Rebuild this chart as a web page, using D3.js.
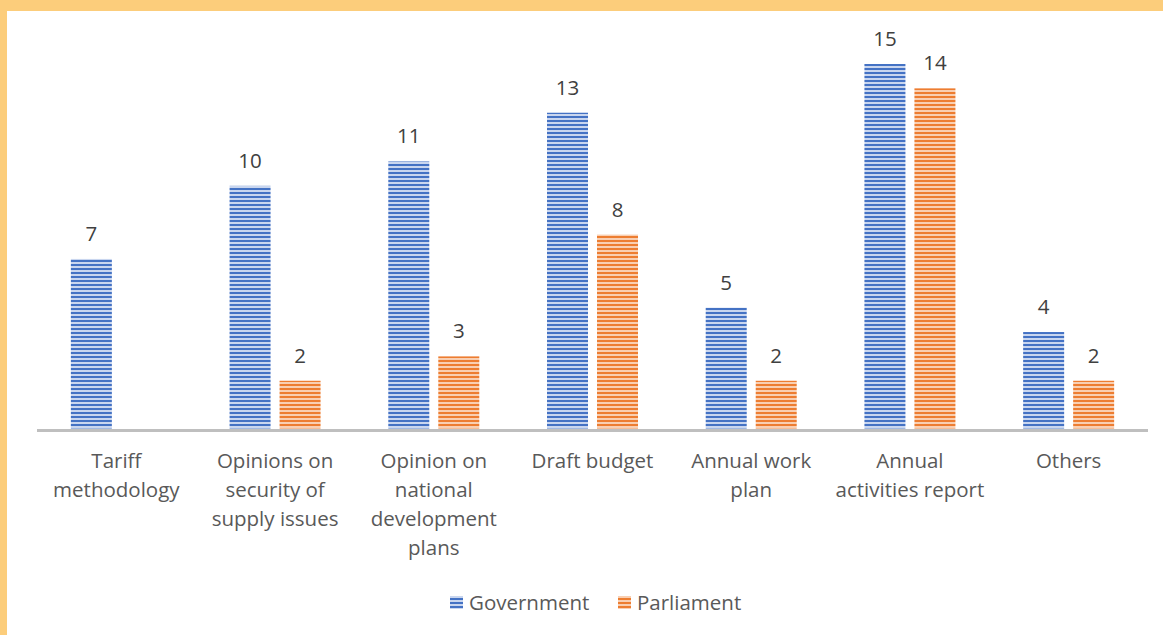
<!DOCTYPE html>
<html>
<head>
<meta charset="utf-8">
<script src="https://cdn.jsdelivr.net/npm/d3@7"></script>
<style>
  body { margin: 0; background: #fff; }
  svg { display: block; font-family: "Open Sans", Lato, sans-serif; }
</style>
</head>
<body>
<svg id="chart" width="1163" height="635"></svg>
<script>
// data
const categories = [
  ["Tariff", "methodology"],
  ["Opinions on", "security of", "supply issues"],
  ["Opinion on", "national", "development", "plans"],
  ["Draft budget"],
  ["Annual work", "plan"],
  ["Annual", "activities report"],
  ["Others"]
];
const series = ["Government", "Parliament"];
const government = [7, 10, 11, 13, 5, 15, 4];
const parliament = [null, 2, 3, 8, 2, 14, 2];

const colors = { Government: ["#4472C4", "#c9d6ef"], Parliament: ["#ED7D31", "#f9cfb2"] };

const svg = d3.select("#chart");
const W = 1163, H = 635;
const fs = 20.5;

// yellow frame on top and left
svg.append("rect").attr("width", W).attr("height", H).attr("fill", "#FCCD7B");
svg.append("rect").attr("x", 7).attr("y", 11).attr("width", W - 7).attr("height", H - 11).attr("fill", "#fff");

// striped fills
const defs = svg.append("defs");
series.forEach((s, i) => {
  const p = defs.append("pattern").attr("id", "pat" + i)
    .attr("patternUnits", "userSpaceOnUse").attr("width", 8).attr("height", 4);
  p.append("rect").attr("width", 8).attr("height", 4).attr("fill", colors[s][1]);
  p.append("rect").attr("width", 8).attr("height", 2).attr("fill", colors[s][0]);
});

const margin = { left: 37, right: 15, top: 64, base: 429.5 };
const x0 = d3.scaleBand().domain(d3.range(categories.length))
  .range([margin.left, W - margin.right]).paddingInner(0).paddingOuter(0);
const y = d3.scaleLinear().domain([0, 15]).range([margin.base, margin.top]);
const barW = 41, gap = 9;

const rows = categories.map((c, i) => ({ i, vals: [government[i], parliament[i]] }));

const groups = svg.selectAll("g.cat").data(rows).join("g").attr("class", "cat")
  .attr("transform", d => `translate(${x0(d.i) + x0.bandwidth() / 2},0)`);

groups.each(function(d) {
  const g = d3.select(this);
  d.vals.forEach((v, k) => {
    if (v == null) return;
    const bx = k === 0 ? -(barW + gap / 2) : gap / 2;
    g.append("rect")
      .attr("x", bx).attr("y", y(v)).attr("width", barW).attr("height", y(0) - y(v) - 1)
      .attr("fill", `url(#pat${k})`);
    g.append("text")
      .attr("x", bx + barW / 2).attr("y", y(v) - 18)
      .attr("text-anchor", "middle").attr("font-size", fs).attr("fill", "#404040")
      .text(v);
  });
  const t = g.append("text").attr("text-anchor", "middle").attr("font-size", fs).attr("fill", "#595959");
  categories[d.i].forEach((line, j) => {
    t.append("tspan").attr("x", 0).attr("y", 468 + j * 29).text(line);
  });
});

// axis baseline
svg.append("line")
  .attr("x1", margin.left).attr("x2", W - margin.right)
  .attr("y1", margin.base + 1).attr("y2", margin.base + 1)
  .attr("stroke", "#bfbfbf").attr("stroke-width", 3);

// legend
const legend = svg.append("g").attr("transform", "translate(450,602)");
const legX = [0, 168];
series.forEach((s, i) => {
  const lg = legend.append("g").attr("transform", `translate(${legX[i]},0)`);
  lg.append("rect").attr("x", 0).attr("y", -6).attr("width", 13).attr("height", 13).attr("fill", `url(#pat${i})`);
  lg.append("text").attr("x", 19).attr("y", 8).attr("font-size", fs).attr("fill", "#595959").text(s);
});
</script>
</body>
</html>
